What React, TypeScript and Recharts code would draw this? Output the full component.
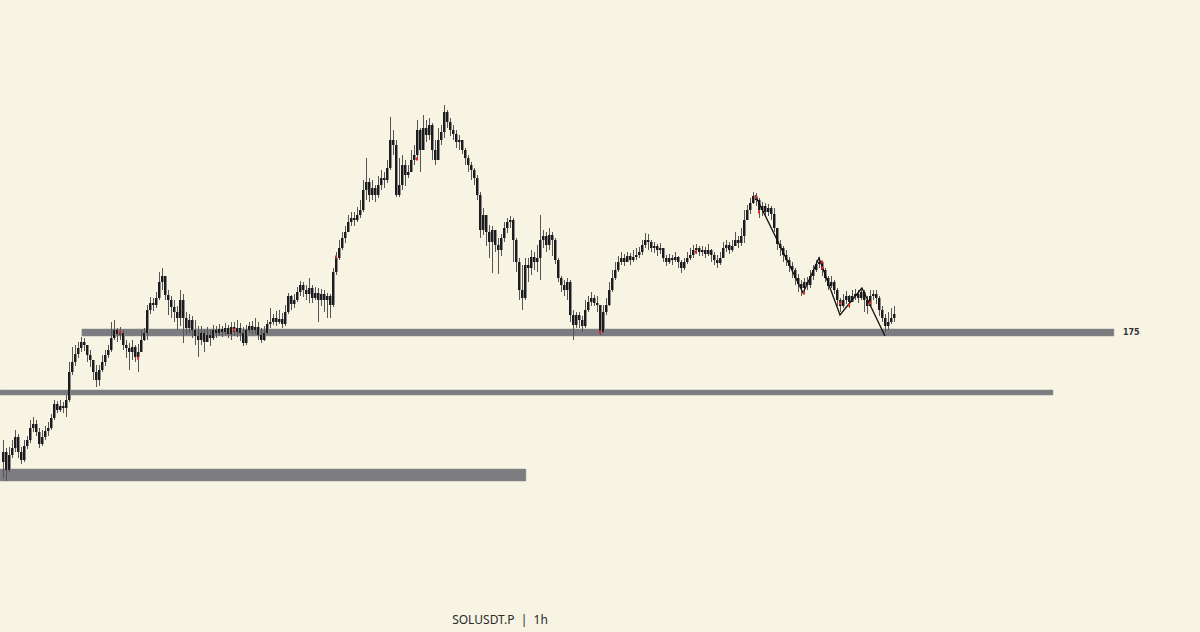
import React from 'react';
import {
  ComposedChart,
  Bar,
  Scatter,
  XAxis,
  YAxis,
  ReferenceArea,
} from 'recharts';

// SOLUSDT.P 1h candles (oldest first)
const FIRST_OPEN = 162.0;

const closes: number[] = [
  163.0, 161.2, 162.7, 163.4, 164.5, 163.0, 162.2, 163.6, 164.2, 165.4,
  165.8, 165.0, 163.8, 164.5, 165.1, 165.4, 166.4, 167.8, 167.2, 167.6,
  167.4, 168.2, 171.0, 172.0, 172.8, 173.4, 174.0, 173.7, 172.7, 172.2,
  171.0, 170.2, 171.2, 172.0, 172.7, 173.2, 174.4, 175.2, 174.8, 174.9,
  173.7, 173.4, 173.0, 173.5, 172.5, 173.0, 174.2, 174.9, 177.2, 177.9,
  177.7, 178.4, 180.0, 180.6, 178.7, 178.2, 177.5, 177.0, 176.4, 178.2,
  176.4, 175.4, 176.2, 175.2, 174.6, 174.2, 174.9, 174.0, 174.7, 174.4,
  175.2, 174.9, 175.3, 175.0, 175.4, 174.8, 175.5, 175.0, 175.4, 174.9,
  173.9, 175.2, 175.6, 175.2, 175.5, 174.7, 174.2, 174.9, 175.8, 176.0,
  176.4, 176.0, 176.3, 175.8, 177.0, 178.6, 177.8, 178.2, 179.0, 179.7,
  179.2, 178.8, 179.4, 178.4, 178.9, 178.2, 178.8, 178.2, 178.6, 177.7,
  181.0, 182.4, 183.4, 184.4, 185.0, 186.0, 186.4, 186.2, 186.7, 187.2,
  189.2, 190.0, 188.7, 189.4, 188.7, 189.7, 190.4, 190.2, 191.4, 194.2,
  193.7, 188.7, 189.7, 191.7, 190.7, 191.0, 192.2, 192.7, 195.2, 193.2,
  195.4, 194.7, 195.7, 193.2, 192.2, 194.2, 195.0, 197.0, 196.0, 195.2,
  194.8, 194.0, 194.2, 193.2, 192.4, 191.7, 191.2, 190.4, 188.7, 185.2,
  186.7, 185.0, 184.0, 185.2, 183.7, 183.2, 184.4, 185.4, 186.0, 186.2,
  184.2, 182.0, 179.2, 178.4, 181.7, 181.4, 182.5, 182.0, 182.4, 184.2,
  184.6, 183.7, 184.7, 184.2, 182.2, 180.4, 179.7, 179.2, 180.0, 176.7,
  175.7, 176.7, 176.2, 175.6, 177.2, 178.0, 178.4, 177.9, 177.7, 175.0,
  177.0, 177.7, 179.2, 180.4, 181.2, 182.0, 182.4, 182.0, 182.6, 182.2,
  182.5, 182.7, 183.0, 183.7, 184.2, 184.0, 183.4, 183.6, 183.2, 183.4,
  182.4, 182.0, 182.4, 182.2, 182.5, 182.0, 181.4, 182.0, 182.4, 182.7,
  183.2, 183.4, 183.0, 183.2, 182.8, 183.2, 182.7, 182.2, 181.9, 182.4,
  183.4, 183.7, 183.2, 183.6, 184.2, 183.9, 184.6, 186.2, 187.2, 187.9,
  188.6, 188.2, 187.2, 187.6, 187.0, 187.4, 186.8, 185.4, 183.8, 183.4,
  182.7, 182.2, 181.6, 181.2, 180.4, 179.8, 179.4, 180.0, 179.7, 180.6,
  181.2, 181.8, 182.0, 181.2, 180.4, 179.6, 180.0, 179.2, 178.2, 177.6,
  178.2, 178.6, 178.0, 178.6, 178.8, 178.4, 179.0, 178.2, 177.6, 178.6,
  178.8, 178.4, 177.2, 176.4, 175.6, 176.0, 176.4, 176.8,
];

const highs: number[] = [
  164.2, 163.4, 163.5, 164.2, 165.2, 164.8, 163.5, 164.2, 164.6, 166.2,
  166.5, 166.2, 165.4, 165.2, 165.6, 166.0, 166.8, 168.2, 168.1, 168.2,
  168.0, 168.7, 172.0, 173.5, 173.7, 174.0, 174.5, 174.4, 173.5, 173.2,
  172.2, 171.7, 171.7, 172.7, 173.2, 173.7, 176.0, 176.2, 175.4, 175.5,
  175.2, 174.2, 173.9, 174.2, 173.7, 173.8, 175.2, 175.4, 177.7, 178.5,
  178.4, 179.0, 181.0, 181.4, 180.6, 179.2, 178.6, 178.2, 177.6, 179.2,
  178.8, 177.0, 176.8, 176.6, 176.2, 175.6, 175.6, 175.2, 175.5, 175.2,
  175.7, 175.6, 175.8, 175.6, 175.9, 175.7, 176.0, 176.0, 176.2, 175.9,
  175.5, 175.7, 176.0, 176.1, 176.4, 176.0, 175.4, 175.6, 176.2, 177.4,
  176.8, 177.1, 177.2, 176.9, 177.7, 178.9, 178.7, 178.8, 179.5, 180.1,
  180.0, 179.7, 180.4, 179.7, 179.5, 179.4, 179.3, 179.2, 178.9, 178.8,
  181.4, 183.0, 184.2, 185.0, 185.6, 186.7, 187.0, 187.0, 187.5, 188.2,
  190.2, 192.4, 190.4, 190.2, 189.7, 190.6, 191.2, 191.0, 192.2, 196.5,
  195.2, 194.2, 192.4, 192.7, 192.2, 191.7, 193.2, 193.7, 196.2, 195.4,
  196.7, 196.2, 196.4, 195.9, 194.2, 195.4, 195.7, 197.7, 197.2, 196.4,
  195.7, 195.2, 194.7, 194.2, 193.4, 192.7, 192.0, 191.4, 190.7, 189.0,
  187.4, 186.7, 185.7, 185.6, 185.0, 184.4, 184.8, 186.0, 186.4, 186.6,
  186.4, 184.4, 182.4, 181.7, 182.4, 182.4, 183.2, 183.0, 183.7, 186.7,
  185.2, 185.0, 185.4, 185.0, 184.4, 182.4, 180.6, 180.2, 180.4, 180.2,
  177.2, 177.0, 177.0, 176.6, 178.2, 178.6, 179.0, 178.7, 178.6, 177.7,
  177.7, 178.4, 180.0, 181.2, 182.0, 182.6, 183.0, 182.8, 183.0, 182.9,
  183.2, 183.4, 183.5, 184.2, 184.9, 184.8, 184.2, 184.0, 183.8, 183.9,
  183.4, 182.7, 182.8, 182.7, 183.0, 182.6, 182.2, 182.4, 183.0, 183.4,
  183.7, 183.8, 183.6, 183.6, 183.5, 183.8, 183.3, 183.0, 182.7, 183.0,
  184.0, 184.2, 184.0, 184.2, 185.0, 184.6, 185.4, 187.2, 187.7, 188.4,
  189.0, 188.9, 188.4, 188.0, 187.9, 187.8, 187.6, 187.4, 185.4, 184.2,
  183.6, 183.2, 182.5, 182.0, 181.4, 180.8, 180.2, 180.4, 180.5, 181.2,
  181.7, 182.2, 182.5, 182.0, 181.4, 180.6, 180.6, 180.2, 179.4, 178.4,
  178.8, 179.1, 178.7, 179.2, 179.3, 179.2, 179.4, 179.2, 178.6, 179.2,
  179.2, 179.2, 178.6, 177.6, 176.8, 177.0, 177.4, 177.6,
];

const lows: number[] = [
  160.4, 160.1, 161.0, 162.4, 163.0, 162.4, 161.8, 162.0, 163.3, 163.9,
  165.0, 164.6, 163.4, 163.6, 164.2, 164.6, 165.2, 166.2, 166.9, 167.0,
  166.9, 166.5, 168.0, 170.7, 171.6, 172.4, 173.0, 173.1, 172.0, 171.5,
  170.2, 169.5, 169.6, 171.0, 171.6, 172.4, 173.0, 174.2, 174.0, 174.2,
  173.2, 172.4, 171.2, 172.2, 172.0, 171.0, 173.2, 174.1, 174.2, 176.8,
  177.1, 177.4, 178.2, 179.2, 178.2, 176.7, 176.4, 176.0, 175.2, 175.6,
  173.9, 174.7, 174.9, 174.4, 173.7, 172.5, 173.7, 173.0, 174.2, 173.6,
  174.2, 174.4, 174.6, 174.5, 174.7, 174.4, 174.2, 174.6, 174.5, 174.1,
  173.6, 173.7, 174.9, 174.7, 174.8, 174.2, 173.9, 174.1, 174.8, 175.4,
  175.7, 175.6, 175.8, 175.4, 175.6, 176.8, 177.2, 177.4, 178.0, 178.6,
  178.5, 178.2, 177.9, 177.9, 178.2, 176.0, 177.6, 177.0, 176.4, 176.4,
  177.5, 180.7, 182.2, 183.2, 183.9, 185.0, 185.6, 185.6, 186.0, 186.4,
  187.0, 188.2, 188.0, 188.2, 188.0, 188.4, 189.2, 189.4, 189.9, 191.2,
  192.7, 188.5, 188.5, 189.2, 189.6, 190.4, 191.4, 191.7, 192.2, 191.0,
  193.7, 194.0, 194.2, 192.2, 191.7, 192.4, 193.7, 194.4, 195.4, 194.6,
  194.2, 193.4, 193.2, 192.8, 191.7, 191.0, 190.2, 189.7, 188.2, 184.4,
  184.7, 183.6, 182.4, 180.9, 183.0, 180.8, 182.6, 184.0, 184.9, 185.4,
  182.0, 181.0, 178.2, 177.2, 178.2, 180.0, 180.7, 181.2, 181.0, 180.2,
  183.4, 183.0, 183.2, 182.6, 181.8, 180.0, 179.0, 178.6, 178.2, 176.0,
  174.2, 175.4, 175.4, 175.0, 175.4, 177.0, 177.6, 177.6, 177.0, 174.7,
  174.9, 176.7, 177.6, 179.0, 180.2, 181.0, 181.7, 181.6, 182.0, 181.7,
  182.0, 182.2, 182.4, 182.7, 183.4, 183.2, 183.0, 182.9, 182.6, 182.8,
  182.0, 181.6, 181.8, 181.7, 182.0, 181.4, 180.9, 181.2, 181.8, 182.2,
  182.4, 182.8, 182.6, 182.6, 182.4, 182.6, 182.0, 181.7, 181.4, 181.7,
  182.6, 183.0, 182.8, 183.0, 183.6, 183.4, 183.6, 183.9, 186.4, 186.8,
  187.8, 187.6, 186.4, 186.6, 186.5, 186.6, 186.2, 185.0, 183.2, 182.6,
  182.0, 181.6, 181.0, 180.4, 179.7, 179.0, 178.6, 178.9, 179.2, 179.4,
  180.2, 181.0, 181.4, 180.6, 180.0, 179.2, 179.4, 178.8, 177.6, 177.0,
  177.4, 177.8, 177.4, 178.0, 178.2, 177.9, 178.2, 177.0, 176.8, 178.0,
  178.2, 177.8, 176.6, 176.0, 175.0, 175.2, 175.8, 176.0,
];

// hand-drawn zigzag (bar position, price)
const zigzagX = [251.7, 267.7, 273, 280, 287.3, 295];
const zigzagP = [188.7, 178.9, 182.4, 176.7, 179.4, 174.6];

// small red signal marks (bar position, price)
const markX = [40, 46, 78, 112, 139, 200, 232, 252, 253, 268, 274, 274, 280, 283, 290];
const markP = [175.0, 172.4, 175.2, 182.5, 192.3, 175.0, 183.0, 188.5, 187.0, 178.9, 182.0, 181.4, 177.9, 177.7, 177.9];

// support zones: [fromBar, toBar, lowPrice, highPrice]
const zones: [number, number, number, number][] = [
  [27.3, 371.3, 174.6, 175.3],
  [0, 351, 168.7, 169.2],
  [0, 175.3, 160.1, 161.3],
];
const zoneLabel = '175';

const candles = closes.map((close, i) => ({
  x: i + 1,
  open: i === 0 ? FIRST_OPEN : closes[i - 1],
  close,
  high: highs[i],
  low: lows[i],
}));

const zigzag = zigzagX.map((x, i) => ({ x, p: zigzagP[i] }));
const marks = markX.map((x, i) => ({ x, p: markP[i] }));

const Candle = (props: any) => {
  const { x, y, width, height, payload } = props;
  if (!payload || height == null) return <g />;
  const { open, close, high, low } = payload;
  const cx = Math.round(x + width / 2);
  const range = high - low || 1;
  const toY = (v: number) => y + ((high - v) / range) * height;
  const top = toY(Math.max(open, close));
  const bottom = toY(Math.min(open, close));
  return (
    <g>
      <line x1={cx + 0.5} x2={cx + 0.5} y1={y} y2={y + height} stroke="#555" strokeWidth={1} />
      <rect x={cx - 1} y={top} width={3} height={Math.max(1.5, bottom - top)} fill="#8c8c8c" />
      <rect x={cx - 1} y={top} width={2} height={Math.max(1.5, bottom - top)} fill="#1c1c1c" />
    </g>
  );
};

const Mark = (props: any) => {
  const { cx, cy } = props;
  return <rect x={cx - 1} y={cy - 1.5} width={2} height={3} fill="#e8231e" />;
};

export default function App() {
  return (
    <div
      style={{
        position: 'absolute',
        top: 0,
        left: 0,
        width: 1200,
        height: 632,
        background: '#f7f4e3',
        overflow: 'hidden',
      }}
    >
      <ComposedChart width={1200} height={632} data={candles} margin={{ top: 0, right: 0, bottom: 0, left: 0 }}>
        <XAxis xAxisId="c" dataKey="x" type="number" domain={[0, 400]} hide allowDataOverflow />
        <XAxis xAxisId="o" dataKey="x" type="number" domain={[0, 400]} hide allowDataOverflow />
        <YAxis type="number" domain={[145, 208.2]} hide allowDataOverflow />

        {zones.map(([x1, x2, y1, y2], i) => (
          <ReferenceArea
            key={`zone-${i}`}
            xAxisId="o"
            x1={x1}
            x2={x2}
            y1={y1}
            y2={y2}
            fill="#7b7b80"
            fillOpacity={1}
            stroke="#8a8a8e"
            strokeWidth={0.5}
            label={
              i === 0
                ? {
                    value: zoneLabel,
                    position: 'right',
                    offset: 9,
                    fill: '#333',
                    fontSize: 8,
                    fontWeight: 700,
                    fontFamily: 'DejaVu Sans, sans-serif',
                  }
                : undefined
            }
          />
        ))}

        <Bar
          xAxisId="c"
          dataKey={(d: any) => [d.low, d.high]}
          barSize={2}
          shape={<Candle />}
          isAnimationActive={false}
        />

        <Scatter
          xAxisId="o"
          data={zigzag}
          dataKey="p"
          line={{ stroke: '#111', strokeWidth: 1.3 }}
          shape={() => <g />}
          isAnimationActive={false}
        />
        <Scatter xAxisId="o" data={marks} dataKey="p" shape={<Mark />} isAnimationActive={false} />
      </ComposedChart>
      <div
        style={{
          position: 'absolute',
          top: 612,
          left: 0,
          width: 1000,
          textAlign: 'center',
          fontFamily: '"Noto Sans", sans-serif',
          fontSize: 12,
          color: '#2a2a2a',
          lineHeight: '16px',
        }}
      >
        SOLUSDT.P&nbsp;&nbsp;|&nbsp;&nbsp;1h
      </div>
    </div>
  );
}
